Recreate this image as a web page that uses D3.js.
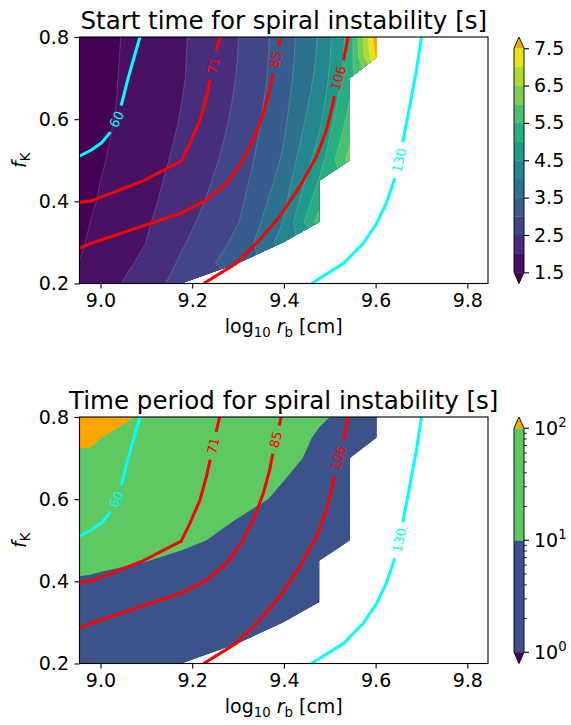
<!DOCTYPE html>
<html><head><meta charset="utf-8">
<script src="https://cdn.jsdelivr.net/npm/d3@7"></script>
<style>body{margin:0;background:#fff}svg{font-family:"DejaVu Sans",sans-serif}</style>
</head><body>
<svg id="c" width="571" height="725"></svg>
<script>
// ---------------- data ----------------
const rbCm = [9e8, 9.5e8, 1e9, 1.25e9, 1.5e9, 2e9, 2.5e9, 3e9, 3.5e9, 4e9, 4.5e9, 5e9, 5.5e9, 6e9, 6.5e9, 7e9];
const fKValues = [0.2, 0.25, 0.3, 0.35, 0.4, 0.45, 0.5, 0.55, 0.6, 0.65, 0.7, 0.75, 0.8];
const N = null;
// start time [s]: one row per rb value, entries follow fKValues
const startTime = [
  [1.60, 1.51, 1.43, 1.37, 1.32, 1.28, 1.24, 1.22, 1.20, 1.18, 1.16, 1.15, 1.15],
  [1.75, 1.65, 1.56, 1.50, 1.44, 1.40, 1.36, 1.33, 1.30, 1.28, 1.27, 1.26, 1.25],
  [1.85, 1.75, 1.66, 1.60, 1.54, 1.50, 1.46, 1.43, 1.40, 1.38, 1.37, 1.36, 1.35],
  [2.18, 2.08, 1.99, 1.93, 1.87, 1.83, 1.79, 1.76, 1.73, 1.71, 1.70, 1.69, 1.68],
  [2.74, 2.57, 2.44, 2.33, 2.24, 2.17, 2.11, 2.06, 2.02, 1.99, 1.96, 1.95, 1.94],
  [N,    3.29, 3.12, 2.99, 2.88, 2.79, 2.71, 2.65, 2.60, 2.56, 2.53, 2.51, 2.50],
  [N,    N,    4.21, 4.00, 3.83, 3.68, 3.56, 3.46, 3.38, 3.32, 3.27, 3.24, 3.22],
  [N,    N,    N,    5.72, 5.34, 5.04, 4.76, 4.56, 4.39, 4.25, 4.15, 4.08, 4.05],
  [N,    N,    N,    N,    N,    N,    6.21, 5.92, 5.68, 5.49, 5.34, 5.25, 5.20],
  [N,    N,    N,    N,    N,    N,    N,    N,    N,    N,    N,    7.60, 7.90],
  [N, N, N, N, N, N, N, N, N, N, N, N, N],
  [N, N, N, N, N, N, N, N, N, N, N, N, N],
  [N, N, N, N, N, N, N, N, N, N, N, N, N],
  [N, N, N, N, N, N, N, N, N, N, N, N, N],
  [N, N, N, N, N, N, N, N, N, N, N, N, N],
  [N, N, N, N, N, N, N, N, N, N, N, N, N]
];
// time period [s]
const period = [
  [3.0, 3.5, 4.0, 5.0, 9.0, 13,   17,   22,  30,  45,   90, 110, 140],
  [3.0, 3.4, 3.9, 4.8, 8.8, 12.5, 16,   21,  28,  42,   90, 110, 135],
  [2.9, 3.3, 3.8, 4.6, 8.3, 12,   15,   20,  27,  40,   75, 101, 125],
  [2.7, 3.1, 3.5, 4.2, 7.0, 10.2, 13,   17,  23,  33,   50, 70,  93],
  [2.5, 2.8, 3.2, 3.8, 5.5, 8.5,  11.5, 15,  20,  28,   40, 55,  75],
  [N,   2.4, 2.7, 3.2, 4.2, 6.0,  8.1,  9.7, 13,  18,   25, 35,  48],
  [N,   N,   2.2, 2.6, 3.3, 4.5,  5.5,  7.0, 8.5, 10.3, 13, 16,  20],
  [N,   N,   N,   0.9, 1.8, 2.5,  3.2,  4.0, 5.0, 6.3,  7.5, 8.5, 11.5],
  [N,   N,   N,   N,   N,   N,    2.5,  3.0, 3.8, 4.8,  5.8, 6.5, 7.1],
  [N,   N,   N,   N,   N,   N,    N,    N,   N,   N,    N,  5.5, 6.0],
  [N, N, N, N, N, N, N, N, N, N, N, N, N],
  [N, N, N, N, N, N, N, N, N, N, N, N, N],
  [N, N, N, N, N, N, N, N, N, N, N, N, N],
  [N, N, N, N, N, N, N, N, N, N, N, N, N],
  [N, N, N, N, N, N, N, N, N, N, N, N, N],
  [N, N, N, N, N, N, N, N, N, N, N, N, N]
];
const startLevels = [1.5, 2.0, 2.5, 3.0, 3.5, 4.0, 4.5, 5.0, 5.5, 6.0, 6.5, 7.0, 7.5];
const periodLevels = [1, 10, 100];
const startTicks = [1.5, 2.5, 3.5, 4.5, 5.5, 6.5, 7.5];
const periodTicks = [1, 10, 100];
const periodMinorTicks = [2, 3, 4, 5, 6, 7, 8, 9, 20, 30, 40, 50, 60, 70, 80, 90];
const xTicks = [9.0, 9.2, 9.4, 9.6, 9.8];
const yTicks = [0.2, 0.4, 0.6, 0.8];
const titles = ["Start time for spiral instability [s]", "Time period for spiral instability [s]"];
// overlay contour lines: [log10 rb, fK]
const lineLevels = [60, 71, 85, 106, 130];
const line60 = [[8.954,0.51],[8.98,0.525],[9.002,0.542],[9.02,0.566],[9.035,0.60],[9.048,0.645],[9.058,0.69],[9.068,0.73],[9.086,0.80]];
const line71 = [[8.954,0.398],[8.977,0.40],[9.093,0.45],[9.176,0.498],[9.195,0.541],[9.217,0.598],[9.231,0.655],[9.242,0.711],[9.253,0.768],[9.26,0.80]];
const line85 = [[8.954,0.286],[8.98,0.298],[9.177,0.372],[9.231,0.403],[9.275,0.444],[9.305,0.49],[9.333,0.549],[9.355,0.614],[9.369,0.671],[9.38,0.735],[9.387,0.768],[9.394,0.80]];
const line106 = [[9.225,0.20],[9.296,0.249],[9.347,0.306],[9.391,0.363],[9.435,0.437],[9.471,0.509],[9.493,0.574],[9.507,0.639],[9.516,0.69],[9.529,0.737],[9.54,0.80]];
const line130 = [[9.46,0.20],[9.53,0.249],[9.573,0.298],[9.602,0.346],[9.623,0.395],[9.638,0.444],[9.645,0.468],[9.66,0.549],[9.674,0.63],[9.689,0.72],[9.70,0.80]];
const linePoints = [line60, line71, line85, line106, line130];
const labelFK = [0.60, 0.73, 0.745, 0.70, 0.50];

// ---------------- drawing ----------------
const svg = d3.select("#c");
const FONT = "DejaVu Sans";
const X0 = 79.5, X1 = 488;
const rbLog = rbCm.map(v => Math.log10(v));
const xs = d3.scaleLinear().domain([rbLog[0], rbLog[rbLog.length - 1]]).range([X0, X1]);
const nx = rbCm.length, ny = fKValues.length;
const lineColor = l => (l === 60 || l === 130) ? "#00ffff" : "#ff0000";
const UNDER = d3.interpolateViridis(0), OVER = "orange";
const defs = svg.append("defs");

function interpIdx(arr, c) {
  const t = c - 0.5, n = arr.length;
  if (t <= 0) return arr[0] + t * (arr[1] - arr[0]);
  if (t >= n - 1) return arr[n - 1] + (t - (n - 1)) * (arr[n - 1] - arr[n - 2]);
  const i = Math.floor(t);
  return arr[i] + (t - i) * (arr[i + 1] - arr[i]);
}
function gridValues(cols) {
  let v = new Array(nx * ny);
  for (let i = 0; i < nx; i++) for (let j = 0; j < ny; j++) {
    const a = cols[i][j];
    v[j * nx + i] = (a === null || a === undefined) ? NaN : a;
  }
  let guard = 0;
  while (v.some(a => isNaN(a)) && guard++ < 100) {
    const nv = v.slice();
    for (let i = 0; i < nx; i++) for (let j = 0; j < ny; j++) {
      if (!isNaN(v[j * nx + i])) continue;
      const nb = [];
      if (i > 0) nb.push(v[j * nx + i - 1]);
      if (i < nx - 1) nb.push(v[j * nx + i + 1]);
      if (j > 0) nb.push(v[(j - 1) * nx + i]);
      if (j < ny - 1) nb.push(v[(j + 1) * nx + i]);
      const ok = nb.filter(a => !isNaN(a));
      if (ok.length) nv[j * nx + i] = d3.mean(ok);
    }
    v = nv;
  }
  return v;
}
function mpPath(mp, ys) {
  return mp.coordinates.map(poly => poly.map(ring =>
    "M" + ring.map(p => xs(interpIdx(rbLog, p[0])).toFixed(2) + "," + ys(interpIdx(fKValues, p[1])).toFixed(2)).join("L") + "Z"
  ).join("")).join("");
}
function validPath(cols, ys) {
  let d = "";
  for (let i = 0; i < nx - 1; i++) for (let j = 0; j < ny - 1; j++) {
    const corners = [[i, j], [i + 1, j], [i + 1, j + 1], [i, j + 1]];
    const ok = corners.filter(([a, b]) => cols[a][b] !== null);
    if (ok.length < 3) continue;
    d += "M" + ok.map(([a, b]) => xs(rbLog[a]).toFixed(2) + "," + ys(fKValues[b]).toFixed(2)).join("L") + "Z";
  }
  return d;
}
function labelPos(pts, f, ys) {
  for (let k = 0; k < pts.length - 1; k++) {
    const [x1, y1] = pts[k], [x2, y2] = pts[k + 1];
    if ((y1 - f) * (y2 - f) <= 0 && y1 !== y2) {
      const t = (f - y1) / (y2 - y1);
      const xv = x1 + t * (x2 - x1);
      let ang = Math.atan2(ys(y2) - ys(y1), xs(x2) - xs(x1)) * 180 / Math.PI;
      while (ang > 90) ang -= 180;
      while (ang <= -90) ang += 180;
      return {px: xs(xv), py: ys(f), ang};
    }
  }
  return null;
}

const panels = [
  {top: 37, bottom: 283.5, data: startTime, levels: startLevels, log: false, title: titles[0]},
  {top: 417, bottom: 663.5, data: period, levels: periodLevels, log: true, title: titles[1]}
];

panels.forEach((p, pi) => {
  const ys = d3.scaleLinear().domain([fKValues[0], fKValues[ny - 1]]).range([p.bottom, p.top]);
  const vals = gridValues(p.data);
  const lv = p.levels;
  const tOf = p.log
    ? (a, b) => ((Math.log10(a) + Math.log10(b)) / 2 - Math.log10(lv[0])) / (Math.log10(lv[lv.length - 1]) - Math.log10(lv[0]))
    : (a, b) => ((a + b) / 2 - lv[0]) / (lv[lv.length - 1] - lv[0]);
  const bandColor = k => k < lv.length - 1 ? d3.interpolateViridis(tOf(lv[k], lv[k + 1])) : OVER;

  defs.append("clipPath").attr("id", "valid" + pi).append("path")
    .attr("d", validPath(p.data, ys)).attr("clip-rule", "nonzero");
  defs.append("clipPath").attr("id", "axes" + pi).append("rect")
    .attr("x", X0).attr("y", p.top).attr("width", X1 - X0).attr("height", p.bottom - p.top);

  const gFill = svg.append("g").attr("clip-path", `url(#valid${pi})`);
  gFill.append("rect").attr("x", X0).attr("y", p.top).attr("width", X1 - X0).attr("height", p.bottom - p.top).attr("fill", UNDER);
  const conts = d3.contours().size([nx, ny]).thresholds(lv)(vals);
  conts.forEach((c, k) => {
    gFill.append("path").attr("d", mpPath(c, ys)).attr("fill", bandColor(k)).attr("fill-rule", "evenodd");
  });
  if (!p.log) {
    conts.forEach((c, k) => {
      gFill.append("path").attr("d", mpPath(c, ys)).attr("fill", "none")
        .attr("stroke", "#ffffff").attr("stroke-opacity", 0.35).attr("stroke-width", 0.5);
    });
  }

  const mask = defs.append("mask").attr("id", "gap" + pi).attr("maskUnits", "userSpaceOnUse")
    .attr("x", 0).attr("y", 0).attr("width", 571).attr("height", 725);
  mask.append("rect").attr("x", 0).attr("y", 0).attr("width", 571).attr("height", 725).attr("fill", "#fff");
  const labels = lineLevels.map((l, k) => ({l, pos: labelPos(linePoints[k], labelFK[k], ys)}));
  labels.forEach(({l, pos}) => {
    const w = String(l).length * 8.3 + 12;
    mask.append("rect").attr("x", -w / 2).attr("y", -7).attr("width", w).attr("height", 14)
      .attr("transform", `translate(${pos.px},${pos.py}) rotate(${pos.ang})`).attr("fill", "#000");
  });
  const gLines = svg.append("g").attr("clip-path", `url(#axes${pi})`);
  const gl2 = gLines.append("g").attr("mask", `url(#gap${pi})`);
  const lineGen = d3.line().x(d => xs(d[0])).y(d => ys(d[1]));
  lineLevels.forEach((l, k) => {
    gl2.append("path").attr("d", lineGen(linePoints[k])).attr("fill", "none")
      .attr("stroke", lineColor(l)).attr("stroke-width", 3).attr("stroke-linejoin", "round");
  });
  labels.forEach(({l, pos}) => {
    gLines.append("text").attr("transform", `translate(${pos.px},${pos.py}) rotate(${pos.ang})`)
      .attr("text-anchor", "middle").attr("dy", "0.36em").attr("font-size", 13).attr("font-family", FONT)
      .attr("fill", lineColor(l)).text(l);
  });

  svg.append("rect").attr("x", X0).attr("y", p.top).attr("width", X1 - X0).attr("height", p.bottom - p.top)
    .attr("fill", "none").attr("stroke", "#000").attr("stroke-width", 1.1);

  const gx = svg.append("g").attr("transform", `translate(0,${p.bottom})`)
    .call(d3.axisBottom(xs).tickValues(xTicks).tickFormat(d3.format(".1f")).tickSize(5).tickPadding(5));
  const gy = svg.append("g").attr("transform", `translate(${X0},0)`)
    .call(d3.axisLeft(ys).tickValues(yTicks).tickFormat(d3.format(".1f")).tickSize(5).tickPadding(5.5));
  [gx, gy].forEach(g => {
    g.select(".domain").remove();
    g.attr("font-size", 19).attr("font-family", FONT);
    g.selectAll("line").attr("stroke", "#000").attr("stroke-width", 1.1);
    g.selectAll("text").attr("fill", "#000");
  });

  svg.append("text").attr("x", (X0 + X1) / 2).attr("y", p.top - 8.5).attr("text-anchor", "middle")
    .attr("font-size", 24.5).attr("font-family", FONT).text(p.title);

  const xl = svg.append("text").attr("x", (X0 + X1) / 2).attr("y", p.bottom + 49.5)
    .attr("text-anchor", "middle").attr("font-size", 19).attr("font-family", FONT);
  xl.append("tspan").text("log");
  xl.append("tspan").attr("font-size", 13.3).attr("dy", 4).text("10");
  xl.append("tspan").attr("dy", -4).text(" ");
  xl.append("tspan").attr("font-style", "italic").text("r");
  xl.append("tspan").attr("font-size", 13.3).attr("dy", 4).text("b");
  xl.append("tspan").attr("dy", -4).text(" [cm]");

  const ylab = svg.append("text").attr("transform", `translate(26,${(p.top + p.bottom) / 2}) rotate(-90)`)
    .attr("text-anchor", "middle").attr("font-size", 19).attr("font-family", FONT);
  ylab.append("tspan").attr("font-style", "italic").text("f");
  ylab.append("tspan").attr("font-size", 13.3).attr("dy", 4).text("K");

  const cx0 = 514, cx1 = 524, cm = (cx0 + cx1) / 2;
  const ext = (p.bottom - p.top) / 1.1 * 0.05;
  const bTop = p.top + ext, bBot = p.bottom - ext;
  const cb = p.log
    ? d3.scaleLog().domain([lv[0], lv[lv.length - 1]]).range([bBot, bTop])
    : d3.scaleLinear().domain([lv[0], lv[lv.length - 1]]).range([bBot, bTop]);
  const gc = svg.append("g");
  for (let k = 0; k < lv.length - 1; k++) {
    gc.append("rect").attr("x", cx0).attr("width", cx1 - cx0)
      .attr("y", cb(lv[k + 1])).attr("height", cb(lv[k]) - cb(lv[k + 1]) + 0.3).attr("fill", bandColor(k));
  }
  gc.append("path").attr("d", `M${cx0},${bTop}L${cm},${p.top}L${cx1},${bTop}Z`).attr("fill", OVER);
  gc.append("path").attr("d", `M${cx0},${bBot}L${cm},${p.bottom}L${cx1},${bBot}Z`).attr("fill", UNDER);
  gc.append("path").attr("d", `M${cx0},${bTop}L${cm},${p.top}L${cx1},${bTop}L${cx1},${bBot}L${cm},${p.bottom}L${cx0},${bBot}Z`)
    .attr("fill", "none").attr("stroke", "#000").attr("stroke-width", 0.9);
  if (!p.log) {
    const ga = svg.append("g").attr("transform", `translate(${cx1},0)`)
      .call(d3.axisRight(cb).tickValues(startTicks).tickFormat(d3.format(".1f")).tickSize(5).tickPadding(5));
    ga.select(".domain").remove();
    ga.attr("font-size", 19).attr("font-family", FONT);
    ga.selectAll("line").attr("stroke", "#000").attr("stroke-width", 1.1);
    ga.selectAll("text").attr("fill", "#000");
  } else {
    periodMinorTicks.forEach(t => {
      svg.append("line").attr("x1", cx1).attr("x2", cx1 + 2.8).attr("y1", cb(t)).attr("y2", cb(t))
        .attr("stroke", "#000").attr("stroke-width", 0.9);
    });
    periodTicks.forEach(t => {
      svg.append("line").attr("x1", cx1).attr("x2", cx1 + 5).attr("y1", cb(t)).attr("y2", cb(t))
        .attr("stroke", "#000").attr("stroke-width", 1.1);
      const tx = svg.append("text").attr("x", cx1 + 10).attr("y", cb(t)).attr("dy", "0.36em")
        .attr("font-size", 19).attr("font-family", FONT);
      tx.append("tspan").text("10");
      tx.append("tspan").attr("font-size", 13.3).attr("dy", -8).text(String(Math.round(Math.log10(t))));
    });
  }
});
</script>
</body></html>
